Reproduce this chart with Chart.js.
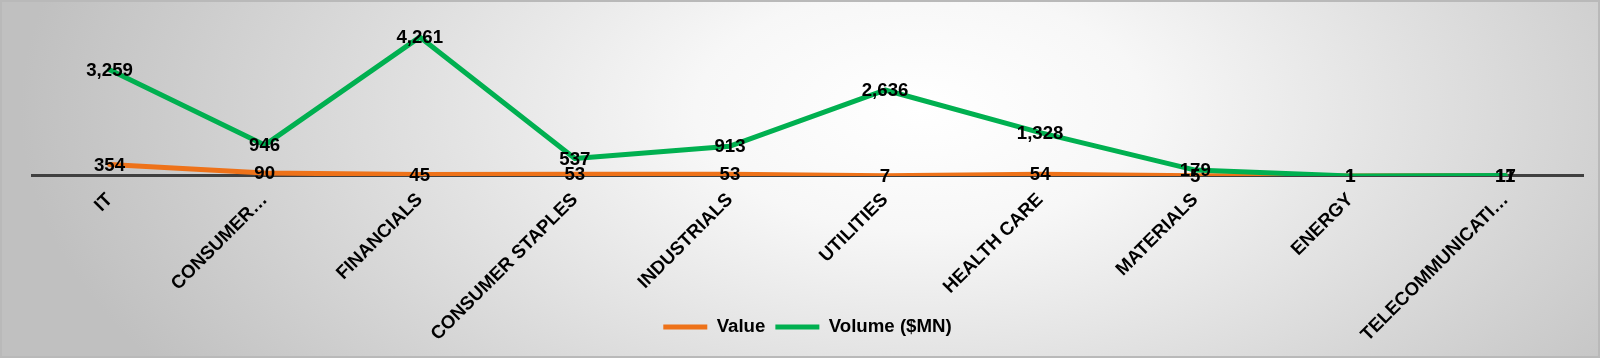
<!DOCTYPE html>
<html>
<head>
<meta charset="UTF-8">
<script src="https://cdn.jsdelivr.net/npm/chart.js@4.4.0/dist/chart.umd.min.js"></script>
<style>
    html, body { margin: 0; padding: 0; }
    #wrap {
        position: relative;
        width: 1600px;
        height: 358px;
        background: radial-gradient(ellipse 900px 480px at 920px 110px, #ffffff 0%, #f7f7f7 25%, #c0c0c0 100%);
        box-shadow: inset 0 0 0 2px #b9b9b9;
    }
    #chart { position: absolute; left: 0; top: 0; }
</style>
</head>
<body>
<div id="wrap">
    <canvas id="chart" width="1600" height="358"></canvas>
</div>
<script>
    // sectors, in the order they appear on the axis
    const sectors = ['IT', 'CONSUMER DISCRETIONARY', 'FINANCIALS', 'CONSUMER STAPLES', 'INDUSTRIALS',
        'UTILITIES', 'HEALTH CARE', 'MATERIALS', 'ENERGY', 'TELECOMMUNICATION SERVICES'];
    const valueSeries = [354, 90, 45, 53, 53, 7, 54, 5, 1, 11];
    const volumeSeries = [3259, 946, 4261, 537, 913, 2636, 1328, 179, 1, 17];

    const FONT = '"Liberation Sans", Arial, sans-serif';
    const FONT_SIZE = 18.67;

    // excel cuts long category names
    function shortName(name) {
        if (name.length <= 16) return name;
        var cut = name.slice(0, 15);
        var sp = cut.lastIndexOf(' ');
        if (sp > 0) cut = cut.slice(0, sp);
        return cut + '…';
    }

    const pointLabels = {
        id: 'pointLabels',
        afterDatasetsDraw(chart) {
            var ctx = chart.ctx;
            ctx.save();
            ctx.font = 'bold ' + FONT_SIZE + 'px ' + FONT;
            ctx.fillStyle = '#000';
            ctx.textAlign = 'center';
            ctx.textBaseline = 'middle';
            chart.data.datasets.forEach(function(ds, i) {
                var meta = chart.getDatasetMeta(i);
                meta.data.forEach(function(pt, j) {
                    ctx.fillText(ds.data[j].toLocaleString('en-US'), pt.x, pt.y + 1);
                });
            });
            ctx.restore();
        }
    };

    new Chart(document.getElementById('chart'), {
        type: 'line',
        data: {
            labels: sectors,
            datasets: [{
                label: 'Value',
                data: valueSeries,
                borderColor: '#EE7219',
                backgroundColor: '#EE7219',
                borderWidth: 5,
                borderCapStyle: 'round',
                borderJoinStyle: 'round',
                pointRadius: 0,
                order: 1
            }, {
                label: 'Volume ($MN)',
                data: volumeSeries,
                borderColor: '#00B050',
                backgroundColor: '#00B050',
                borderWidth: 5,
                borderCapStyle: 'round',
                borderJoinStyle: 'round',
                pointRadius: 0,
                order: 0
            }]
        },
        options: {
            responsive: false,
            animation: false,
            layout: { padding: { left: 32, right: 17, top: 13, bottom: 11.7 } },
            plugins: {
                tooltip: { enabled: false },
                legend: {
                    position: 'bottom',
                    labels: {
                        usePointStyle: true,
                        pointStyle: 'line',
                        pointStyleWidth: 44,
                        padding: 10,
                        color: '#000',
                        font: { family: FONT, size: FONT_SIZE, weight: 'bold' },
                        sort: function(a, b) { return a.datasetIndex - b.datasetIndex; }
                    }
                }
            },
            scales: {
                x: {
                    offset: true,
                    grid: { display: false, drawTicks: false },
                    border: { display: true, color: '#404040', width: 3 },
                    ticks: {
                        minRotation: 45,
                        maxRotation: 45,
                        autoSkip: false,
                        padding: 13,
                        color: '#000',
                        font: { family: FONT, size: FONT_SIZE, weight: 'bold' },
                        callback: function(v) { return shortName(this.getLabelForValue(v)); }
                    },
                    afterFit: function(scale) { scale.height = 131.7; },
                    // long rotated names run down past the legend line, don't clip them
                    afterUpdate: function(scale) { scale._computeLabelArea = function() { return undefined; }; }
                },
                y: {
                    display: false,
                    min: 0,
                    max: 5000
                }
            }
        },
        plugins: [pointLabels]
    });
</script>
</body>
</html>
